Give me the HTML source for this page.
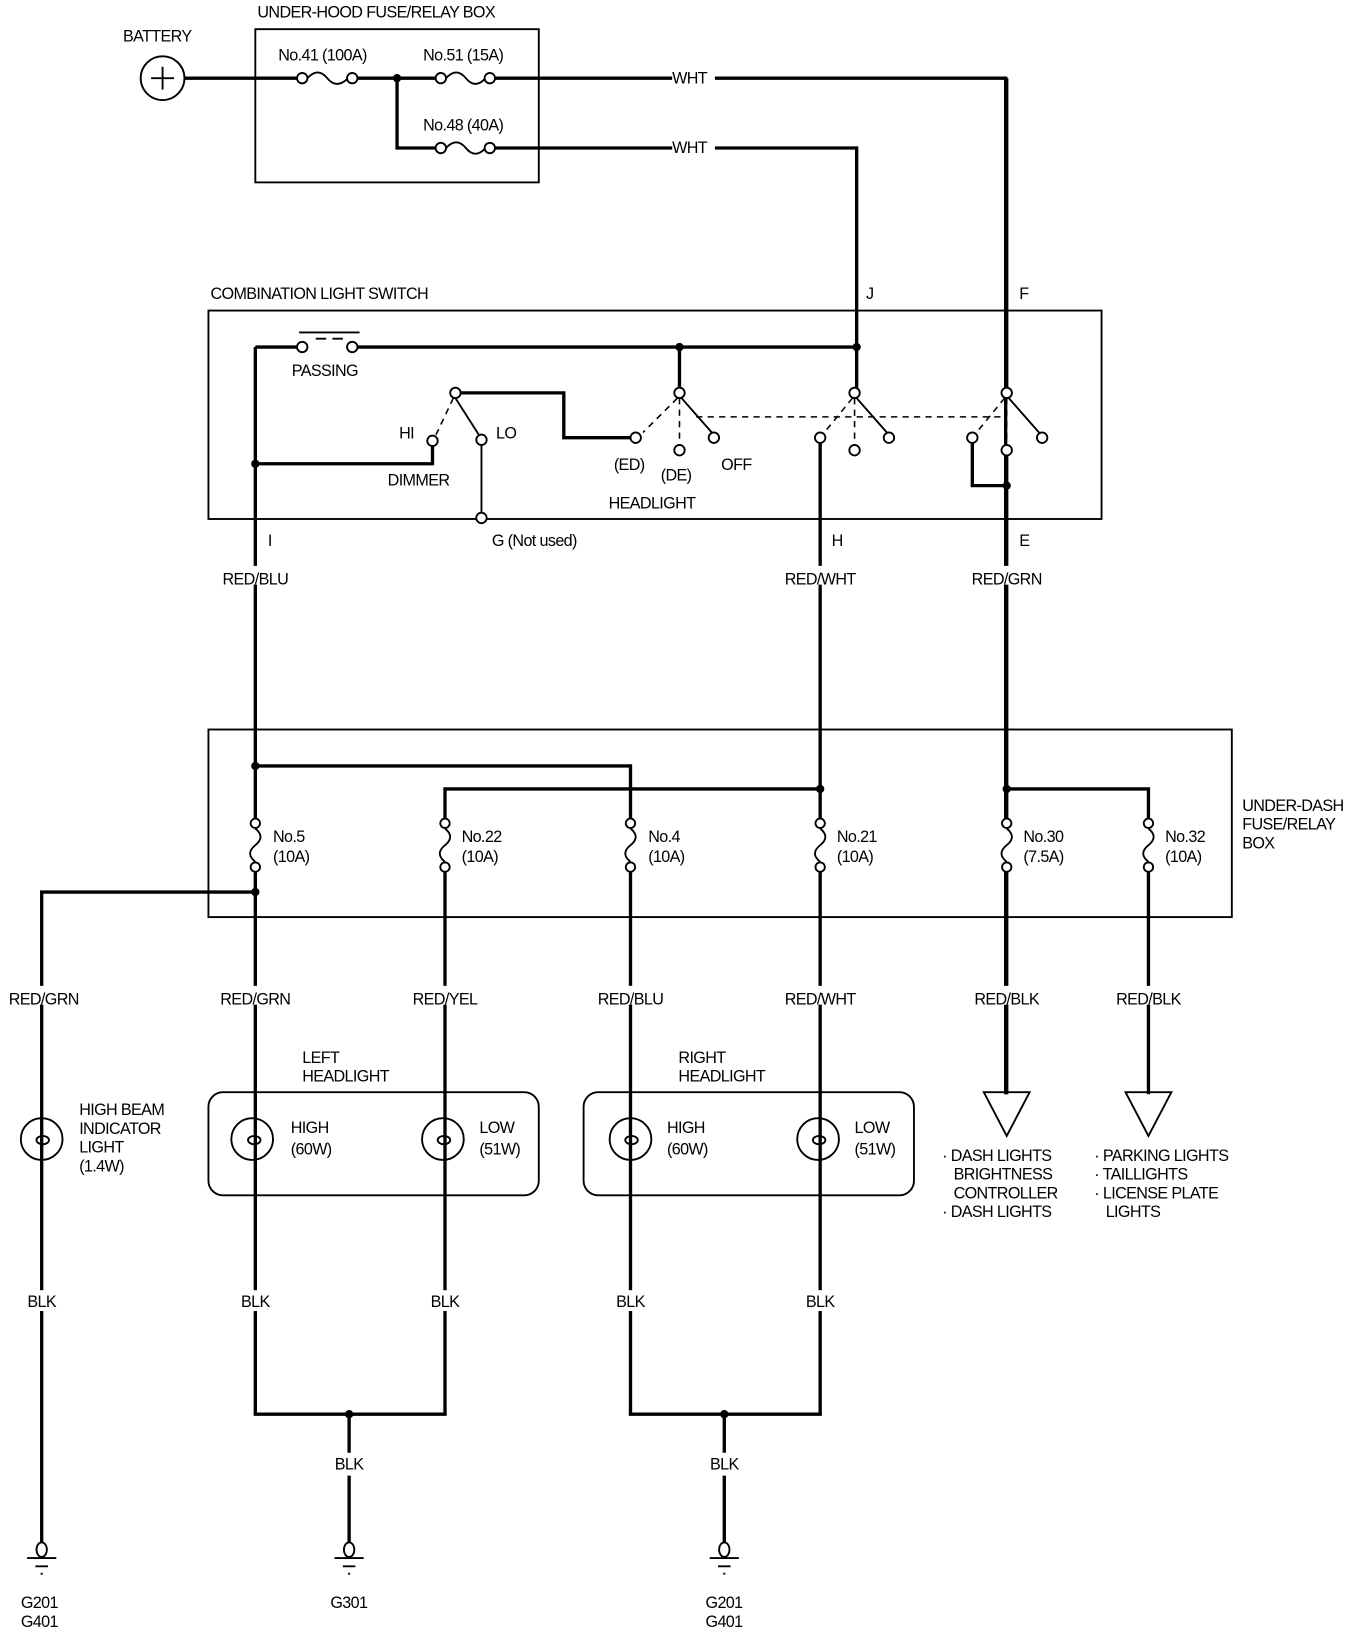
<!DOCTYPE html>
<html><head><meta charset="utf-8"><style>
html,body{margin:0;padding:0;background:#fff;}
svg{display:block;}
text{font-family:"Liberation Sans",sans-serif;font-size:15.5px;fill:#000;letter-spacing:-0.6px;}
.w{stroke:#000;stroke-width:3.2;fill:none;}
.t{stroke:#000;stroke-width:1.8;fill:none;}
.d{stroke:#000;stroke-width:1.5;fill:none;stroke-dasharray:6,5;}
.c{stroke:#000;stroke-width:1.8;fill:#fff;}
</style></head><body>
<svg width="1360" height="1632" viewBox="0 0 1305 1566" xmlns="http://www.w3.org/2000/svg">
<!-- battery -->
<circle cx="156" cy="75" r="21" class="t"/>
<path d="M145 75h22M156 64v22" class="t"/>
<text x="118" y="40">BATTERY</text>
<!-- underhood box -->
<rect x="245" y="28" width="272" height="147" class="t"/>
<text x="247" y="17">UNDER-HOOD FUSE/RELAY BOX</text>
<path d="M177 75H286M343 75H419M474 75H645M686 75H965V1050" class="w"/>
<path d="M381 75V142H419M474 142H645M686 142H822V333" class="w"/>
<circle cx="381" cy="75" r="4"/>
<g class="t">
<path d="M295 75Q305 64 314 75Q323 86 334 75"/>
<path d="M428 75Q438 64 447 75Q456 86 466 75"/>
<path d="M428 142Q438 131 447 142Q456 153 466 142"/>
</g>
<circle cx="290" cy="75" r="5" class="c"/><circle cx="338" cy="75" r="5" class="c"/>
<circle cx="423" cy="75" r="5" class="c"/><circle cx="470" cy="75" r="5" class="c"/>
<circle cx="423" cy="142" r="5" class="c"/><circle cx="470" cy="142" r="5" class="c"/>
<text x="267" y="58">No.41 (100A)</text>
<text x="406" y="58">No.51 (15A)</text>
<text x="406" y="125">No.48 (40A)</text>
<text x="645" y="80">WHT</text>
<text x="645" y="147">WHT</text>
<!-- combination switch -->
<text x="202" y="287">COMBINATION LIGHT SWITCH</text>
<text x="831" y="287">J</text><text x="978" y="287">F</text>
<rect x="200" y="298" width="857" height="200" class="t"/>
<path d="M245 333H286M343 333H822" class="w"/>
<path d="M287 319H345" class="t" stroke-width="2"/>
<path d="M303 325h10M319 325h10" class="t"/>
<circle cx="290" cy="333" r="5" class="c"/><circle cx="338" cy="333" r="5" class="c"/>
<text x="280" y="361">PASSING</text>
<path d="M652 333V372" class="w"/>
<circle cx="652" cy="333" r="4"/><circle cx="822" cy="333" r="4"/>
<path d="M822 333V372" class="w"/>
<path d="M966 75V372" class="w"/>
<path d="M245 333V1357" class="w"/>
<circle cx="245" cy="445" r="4"/>
<path d="M245 445H415V428" class="w"/>
<path d="M441 377H541V420H605" class="w"/>
<path d="M462 427V492" class="t" stroke-width="2.4"/>
<path d="M437 382L460 418" class="t" stroke-width="2.2"/>
<path d="M435 382L418 418" class="d"/>
<circle cx="437" cy="377" r="5" class="c"/>
<circle cx="415" cy="423" r="5" class="c"/>
<circle cx="462" cy="422" r="5" class="c"/>
<circle cx="462" cy="497" r="5" class="c"/>
<text x="383" y="421">HI</text><text x="476" y="421">LO</text>
<text x="372" y="466">DIMMER</text>
<!-- headlight switch -->
<path d="M668 400H966" class="d"/>
<g>
<path d="M650 382L617 415M652 382V427" class="d"/>
<path d="M654 382L683 415" class="t" stroke-width="2.2"/>
<circle cx="652" cy="377" r="5" class="c"/>
<circle cx="610" cy="420" r="5" class="c"/>
<circle cx="652" cy="432" r="5" class="c"/>
<circle cx="685" cy="420" r="5" class="c"/>
</g>
<g>
<path d="M818 382L791 415M820 382V427" class="d"/>
<path d="M822 382L851 415" class="t" stroke-width="2.2"/>
<circle cx="820" cy="377" r="5" class="c"/>
<circle cx="787" cy="420" r="5" class="c"/>
<circle cx="820" cy="432" r="5" class="c"/>
<circle cx="853" cy="420" r="5" class="c"/>
</g>
<g>
<path d="M964 382L937 415M966 382V427" class="d"/>
<path d="M968 382L997 415" class="t" stroke-width="2.2"/>
<path d="M933 425V466H966" class="w"/>
<path d="M966 437V1050" class="w"/>
<circle cx="966" cy="466" r="4"/>
<circle cx="966" cy="377" r="5" class="c"/>
<circle cx="933" cy="420" r="5" class="c"/>
<circle cx="966" cy="432" r="5" class="c"/>
<circle cx="1000" cy="420" r="5" class="c"/>
</g>
<path d="M787 425V1357" class="w"/>
<text x="589" y="451">(ED)</text><text x="634" y="461">(DE)</text>
<text x="692" y="451">OFF</text>
<text x="584" y="488">HEADLIGHT</text>
<text x="257" y="524">I</text>
<text x="472" y="524">G (Not used)</text>
<text x="798" y="524">H</text><text x="978" y="524">E</text>
<!-- under dash box -->
<rect x="200" y="700" width="982" height="180" class="t"/>
<text x="1192" y="778">UNDER-DASH</text>
<text x="1192" y="796">FUSE/RELAY</text>
<text x="1192" y="814">BOX</text>
<path d="M245 735H605V1357" class="w"/>
<circle cx="245" cy="735" r="4"/>
<path d="M427 1357V757H787" class="w"/>
<circle cx="787" cy="757" r="4"/>
<path d="M966 757H1102V1050" class="w"/>
<circle cx="966" cy="757" r="4"/>
<path d="M40 1480V856H245" class="w"/>
<circle cx="245" cy="856" r="4"/>
<!-- label backgrounds -->
<g fill="#fff">
<rect x="208" y="543" width="74" height="18"/><rect x="748" y="543" width="78" height="18"/><rect x="928" y="543" width="76" height="18"/>
<rect x="3" y="946" width="76" height="18"/><rect x="206" y="946" width="78" height="18"/>
<rect x="391" y="946" width="72" height="18"/><rect x="569" y="946" width="72" height="18"/>
<rect x="748" y="946" width="78" height="18"/><rect x="930" y="946" width="72" height="18"/>
<rect x="1066" y="946" width="72" height="18"/>
</g>
<g text-anchor="middle">
<text x="245" y="561">RED/BLU</text>
<text x="787" y="561">RED/WHT</text>
<text x="966" y="561">RED/GRN</text>
<text x="42" y="964">RED/GRN</text>
<text x="245" y="964">RED/GRN</text>
<text x="427" y="964">RED/YEL</text>
<text x="605" y="964">RED/BLU</text>
<text x="787" y="964">RED/WHT</text>
<text x="966" y="964">RED/BLK</text>
<text x="1102" y="964">RED/BLK</text>
</g>
<!-- vertical fuses -->
<g fill="#fff">
<rect x="238" y="787" width="14" height="48"/><rect x="420" y="787" width="14" height="48"/>
<rect x="598" y="787" width="14" height="48"/><rect x="780" y="787" width="14" height="48"/>
<rect x="959" y="787" width="14" height="48"/><rect x="1095" y="787" width="14" height="48"/>
</g>
<g class="t">
<path d="M245 795Q255 803 245 811Q235 819 245 827"/>
<path d="M427 795Q437 803 427 811Q417 819 427 827"/>
<path d="M605 795Q615 803 605 811Q595 819 605 827"/>
<path d="M787 795Q797 803 787 811Q777 819 787 827"/>
<path d="M966 795Q976 803 966 811Q956 819 966 827"/>
<path d="M1102 795Q1112 803 1102 811Q1092 819 1102 827"/>
</g>
<g class="c">
<circle cx="245" cy="790" r="4.5"/><circle cx="245" cy="832" r="4.5"/>
<circle cx="427" cy="790" r="4.5"/><circle cx="427" cy="832" r="4.5"/>
<circle cx="605" cy="790" r="4.5"/><circle cx="605" cy="832" r="4.5"/>
<circle cx="787" cy="790" r="4.5"/><circle cx="787" cy="832" r="4.5"/>
<circle cx="966" cy="790" r="4.5"/><circle cx="966" cy="832" r="4.5"/>
<circle cx="1102" cy="790" r="4.5"/><circle cx="1102" cy="832" r="4.5"/>
</g>
<text x="262" y="808">No.5</text><text x="262" y="827">(10A)</text>
<text x="443" y="808">No.22</text><text x="443" y="827">(10A)</text>
<text x="622" y="808">No.4</text><text x="622" y="827">(10A)</text>
<text x="803" y="808">No.21</text><text x="803" y="827">(10A)</text>
<text x="982" y="808">No.30</text><text x="982" y="827">(7.5A)</text>
<text x="1118" y="808">No.32</text><text x="1118" y="827">(10A)</text>
<!-- arrows -->
<path d="M944 1048H988L966 1090Z" class="t" fill="#fff"/>
<path d="M1080 1048H1124L1102 1090Z" class="t" fill="#fff"/>
<text x="904" y="1114">· DASH LIGHTS</text>
<text x="915" y="1132">BRIGHTNESS</text>
<text x="915" y="1150">CONTROLLER</text>
<text x="904" y="1168">· DASH LIGHTS</text>
<text x="1050" y="1114">· PARKING LIGHTS</text>
<text x="1050" y="1132">· TAILLIGHTS</text>
<text x="1050" y="1150">· LICENSE PLATE</text>
<text x="1061" y="1168">LIGHTS</text>
<!-- headlight boxes -->
<rect x="200" y="1048" width="317" height="99" rx="14" class="t"/>
<rect x="560" y="1048" width="317" height="99" rx="14" class="t"/>
<text x="290" y="1020">LEFT</text><text x="290" y="1038">HEADLIGHT</text>
<text x="651" y="1020">RIGHT</text><text x="651" y="1038">HEADLIGHT</text>
<!-- bulbs -->
<g>
<circle cx="40" cy="1093" r="20" class="t" fill="#fff"/>
<circle cx="242" cy="1093" r="20" class="t" fill="#fff"/>
<circle cx="425" cy="1093" r="20" class="t" fill="#fff"/>
<circle cx="605" cy="1093" r="20" class="t" fill="#fff"/>
<circle cx="785" cy="1093" r="20" class="t" fill="#fff"/>
</g>
<g class="t" stroke-width="2.2">
<path d="M40 1073V1088M40 1099V1113"/><ellipse cx="41" cy="1094" rx="6" ry="4"/>
<path d="M245 1073V1088M245 1099V1113"/><ellipse cx="244" cy="1094" rx="6" ry="4"/>
<path d="M427 1073V1088M427 1099V1113"/><ellipse cx="426" cy="1094" rx="6" ry="4"/>
<path d="M605 1073V1088M605 1099V1113"/><ellipse cx="606" cy="1094" rx="6" ry="4"/>
<path d="M787 1073V1088M787 1099V1113"/><ellipse cx="786" cy="1094" rx="6" ry="4"/>
</g>
<text x="76" y="1070">HIGH BEAM</text><text x="76" y="1088">INDICATOR</text>
<text x="76" y="1106">LIGHT</text><text x="76" y="1124">(1.4W)</text>
<text x="279" y="1087">HIGH</text><text x="279" y="1108">(60W)</text>
<text x="460" y="1087">LOW</text><text x="460" y="1108">(51W)</text>
<text x="640" y="1087">HIGH</text><text x="640" y="1108">(60W)</text>
<text x="820" y="1087">LOW</text><text x="820" y="1108">(51W)</text>
<!-- bottom -->
<g fill="#fff">
<rect x="20" y="1238" width="44" height="20"/><rect x="224" y="1238" width="44" height="20"/>
<rect x="406" y="1238" width="44" height="20"/><rect x="584" y="1238" width="44" height="20"/>
<rect x="766" y="1238" width="44" height="20"/>
<rect x="314" y="1394" width="44" height="20"/><rect x="674" y="1394" width="44" height="20"/>
</g>
<g text-anchor="middle">
<text x="40" y="1254">BLK</text><text x="245" y="1254">BLK</text><text x="427" y="1254">BLK</text>
<text x="605" y="1254">BLK</text><text x="787" y="1254">BLK</text>
<text x="335" y="1410">BLK</text><text x="695" y="1410">BLK</text>
</g>
<path d="M243.4 1357H428.6M603.4 1357H788.6" class="w"/>
<circle cx="335" cy="1357" r="4"/><circle cx="695" cy="1357" r="4"/>
<path d="M335 1357V1394M335 1416V1480M695 1357V1394M695 1416V1480" class="w"/>
<g>
<ellipse cx="40" cy="1487" rx="5" ry="7" class="c"/>
<ellipse cx="335" cy="1487" rx="5" ry="7" class="c"/>
<ellipse cx="695" cy="1487" rx="5" ry="7" class="c"/>
<path d="M26 1495H54M34 1503H46M39 1510H41" class="t" stroke-width="2.2"/>
<path d="M321 1495H349M329 1503H341M334 1510H336" class="t" stroke-width="2.2"/>
<path d="M681 1495H709M689 1503H701M694 1510H696" class="t" stroke-width="2.2"/>
</g>
<text x="20" y="1543">G201</text><text x="20" y="1561">G401</text>
<text x="317" y="1543">G301</text>
<text x="677" y="1543">G201</text><text x="677" y="1561">G401</text>
</svg>
</body></html>
